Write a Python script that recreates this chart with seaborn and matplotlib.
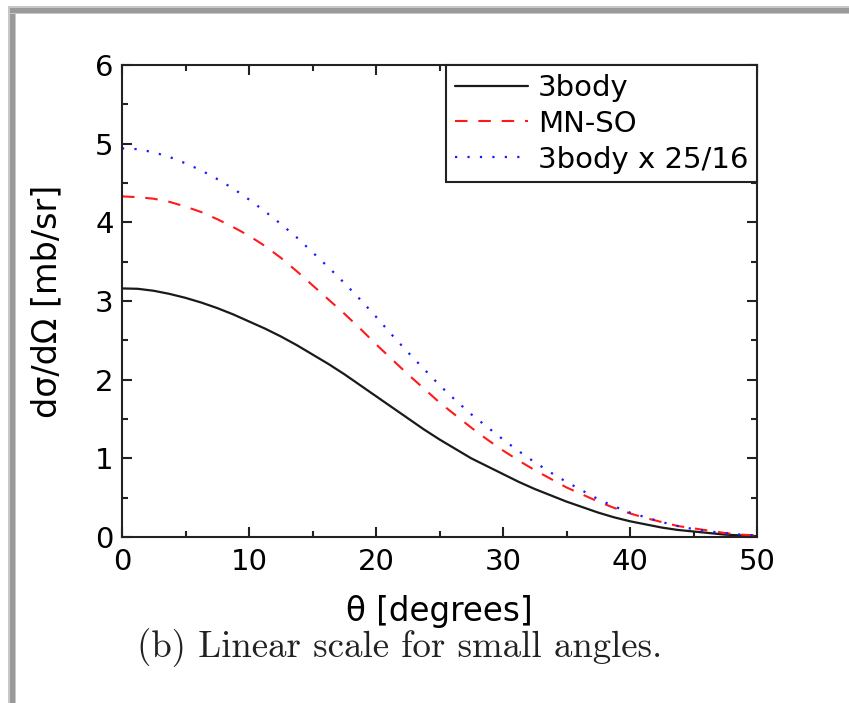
import numpy as np
import pandas as pd
import matplotlib
matplotlib.use("Agg")
import matplotlib.pyplot as plt
from matplotlib.patches import Rectangle
from matplotlib.ticker import MultipleLocator
import seaborn as sns

# ---- data ----
theta = [0, 1.25, 2.5, 3.75, 5, 6.25, 7.5, 8.75, 10, 11.25, 12.5, 13.75, 15,
         16.25, 17.5, 18.75, 20, 21.25, 22.5, 23.75, 25, 26.25, 27.5, 28.75,
         30, 31.25, 32.5, 33.75, 35, 36.25, 37.5, 38.75, 40, 41.25, 42.5,
         43.75, 45, 46.25, 47.5, 48.75, 50]
body3 = [3.16, 3.155, 3.13, 3.09, 3.04, 2.98, 2.91, 2.83, 2.74, 2.65, 2.55,
         2.44, 2.32, 2.20, 2.07, 1.93, 1.79, 1.65, 1.51, 1.37, 1.24, 1.12,
         1.00, 0.90, 0.80, 0.70, 0.61, 0.53, 0.45, 0.38, 0.31, 0.25, 0.20,
         0.16, 0.12, 0.09, 0.07, 0.05, 0.03, 0.02, 0.01]
mnso = [4.33, 4.32, 4.30, 4.26, 4.20, 4.13, 4.04, 3.94, 3.83, 3.70, 3.55,
        3.38, 3.20, 3.02, 2.84, 2.65, 2.45, 2.26, 2.07, 1.89, 1.71, 1.55,
        1.39, 1.24, 1.10, 0.97, 0.85, 0.74, 0.63, 0.54, 0.45, 0.37, 0.30,
        0.24, 0.19, 0.14, 0.11, 0.08, 0.05, 0.03, 0.02]
body3_scaled = [4.94, 4.93, 4.89, 4.83, 4.75, 4.66, 4.55, 4.43, 4.29, 4.14,
                3.98, 3.81, 3.62, 3.43, 3.23, 3.02, 2.80, 2.57, 2.35, 2.14,
                1.93, 1.74, 1.56, 1.40, 1.24, 1.09, 0.95, 0.82, 0.70, 0.59,
                0.48, 0.39, 0.31, 0.25, 0.19, 0.14, 0.10, 0.07, 0.05, 0.03, 0.02]
series_labels = ["3body", "MN-SO", "3body x 25/16"]
x_ticks = [0, 10, 20, 30, 40, 50]
y_ticks = [0, 1, 2, 3, 4, 5, 6]
x_label = "θ [degrees]"
y_label = "dσ/dΩ [mb/sr]"
caption = "(b) Linear scale for small angles."

sns.set_theme(style="ticks")
plt.rcParams["font.family"] = ["DejaVu Sans"]
plt.rcParams["text.color"] = "black"
plt.rcParams["axes.labelcolor"] = "black"

W, H = 849, 703
fig = plt.figure(figsize=(W / 100, H / 100), dpi=100)
fig.patch.set_facecolor("white")

# axes placement (pixel based)
L, R, T, B = 122, 757, 65, 537
ax = fig.add_axes([L / W, 1 - B / H, (R - L) / W, (B - T) / H])
ax.set_facecolor("white")

df = pd.DataFrame({"theta": theta, "a": body3, "b": mnso, "c": body3_scaled})

sns.lineplot(data=df, x="theta", y="a", ax=ax, color="#1a1a1a", linewidth=1.6,
             label=series_labels[0])
sns.lineplot(data=df, x="theta", y="b", ax=ax, color="#ff1a1a", linewidth=1.5,
             linestyle=(0, (6, 5.2)), label=series_labels[1])
sns.lineplot(data=df, x="theta", y="c", ax=ax, color="#1a1aff", linewidth=1.6,
             linestyle=(0, (1.0, 4.6)), label=series_labels[2])

ax.set_xlim(0, 50)
ax.set_ylim(0, 6)
ax.set_xticks(x_ticks)
ax.set_yticks(y_ticks)
ax.set_xticklabels([str(v) for v in x_ticks])
ax.set_yticklabels([str(v) for v in y_ticks])
ax.xaxis.set_minor_locator(MultipleLocator(5))
ax.yaxis.set_minor_locator(MultipleLocator(0.5))

for s in ax.spines.values():
    s.set_visible(True)
    s.set_linewidth(1.5)
    s.set_color("#222222")

ax.tick_params(which="both", direction="in", top=True, right=True,
               color="#222222", width=1.5, labelcolor="black")
ax.tick_params(which="major", length=7)
ax.tick_params(which="minor", length=4)
ax.tick_params(axis="x", which="major", labelsize=21, pad=8)
ax.tick_params(axis="y", which="major", labelsize=21, pad=6)

ax.set_xlabel(x_label, fontsize=23.5)
ax.set_ylabel(y_label, fontsize=24)
ax.xaxis.label.set_va("center")
ax.yaxis.label.set_va("center")
ax.xaxis.set_label_coords(0.5, (B - 611) / (B - T))
ax.yaxis.set_label_coords((47 - L) / (R - L), 0.5)

leg = ax.legend(loc="upper right", borderaxespad=0, fontsize=21,
                frameon=True, fancybox=False, handlelength=2.5,
                handletextpad=0.35, borderpad=0.3, labelspacing=0.27)
leg.get_frame().set_edgecolor("#222222")
leg.get_frame().set_linewidth(1.5)
leg.get_frame().set_alpha(1)
for t in leg.get_texts():
    t.set_color("black")

# caption in Computer Modern
fig.text(400 / W, 1 - 648 / H, caption, fontsize=26.5, family=["cmr10", "DejaVu Serif"],
         ha="center", va="center", color="#222222")

# screenshot-like frame on the left and top
fig.add_artist(Rectangle((8 / W, 0), 8 / W, 1 - 7 / H, transform=fig.transFigure,
                         facecolor="#c8c8c8", edgecolor="none"))
fig.add_artist(Rectangle((10 / W, 0), 5 / W, 1 - 9 / H, transform=fig.transFigure,
                         facecolor="#9a9a9a", edgecolor="none"))
fig.add_artist(Rectangle((8 / W, 1 - 14 / H), 1 - 8 / W, 8 / H, transform=fig.transFigure,
                         facecolor="#c8c8c8", edgecolor="none"))
fig.add_artist(Rectangle((10 / W, 1 - 13 / H), 1 - 10 / W, 5 / H, transform=fig.transFigure,
                         facecolor="#9a9a9a", edgecolor="none"))

fig.savefig("out.png", dpi=100, facecolor="white")
